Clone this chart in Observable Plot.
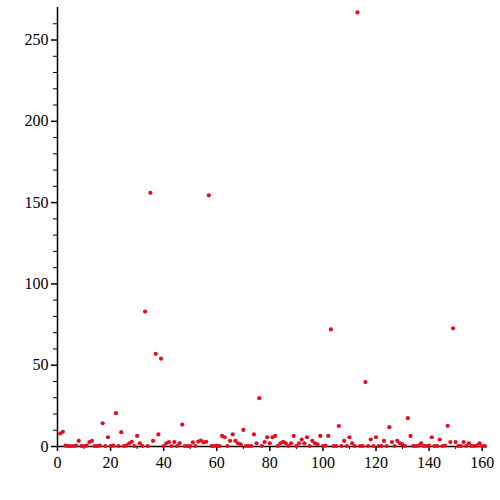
<!DOCTYPE html>
<html>
<head>
<meta charset="utf-8">
<script src="https://cdn.jsdelivr.net/npm/d3@7"></script>
<script src="https://cdn.jsdelivr.net/npm/@observablehq/plot@0.6"></script>
<style>
  html, body { margin: 0; padding: 0; background: #fff; }
  svg, svg text { font-family: "Liberation Serif", Tinos, "Times New Roman", Times, "DejaVu Serif", serif !important; }
</style>
</head>
<body>
<div id="chart"></div>
<script>
// values for index 1..161
const values = [
  8, 9, 0.5, 0.3, 0.3, 0.3, 0.5, 3.5, 0.3, 0.3,
  0.5, 2.7, 3.5, 0.3, 0.3, 0.5, 14.3, 0.3, 5.7, 0.3,
  0.5, 20.5, 0.3, 8.8, 0.3, 0.5, 2, 2.9, 0.3, 6.5,
  2, 0.3, 83, 0.3, 156, 3.5, 57, 7.4, 54, 0.3,
  2, 2.7, 0.3, 2.7, 0.3, 2, 13.5, 0.3, 0.3, 0.3,
  2.5, 0.3, 3, 3.7, 2.5, 2.9, 154.5, 0.3, 0.3, 0.5,
  0.3, 6.5, 5.7, 0.3, 3.5, 7.4, 3.5, 2, 1.3, 10.2,
  0.3, 0.3, 0.3, 7.4, 2, 29.7, 0.3, 2.7, 5.7, 2,
  5.7, 6.5, 0.3, 2, 2.9, 2, 0.3, 2, 6.5, 0.3,
  2, 4.3, 2, 5.7, 0.3, 3.5, 2, 1.3, 6.5, 0.3,
  0.5, 6.5, 72, 0.3, 0.3, 12.6, 0.3, 3.5, 0.3, 5.7,
  2, 0.3, 267, 0.3, 0.3, 39.6, 0.3, 4.3, 0.3, 5.7,
  0.3, 0.3, 3.5, 0.3, 11.9, 2.7, 0.3, 3.5, 2, 1.3,
  0.3, 17.4, 6.5, 0.3, 0.3, 0.5, 2, 0.3, 0.3, 0.5,
  5.7, 0.3, 0.3, 4.3, 0.3, 0.5, 12.7, 2.7, 72.7, 2.7,
  0.3, 0.3, 2.7, 0.3, 2, 0.3, 0.3, 0.5, 2, 0.3,
  0.3
];
const xTickLabels = [0, 20, 40, 60, 80, 100, 120, 140, 160];
const yTickLabels = [0, 50, 100, 150, 200, 250];
const xMinor = [10, 30, 50, 70, 90, 110, 130, 150];
const yMinor = [10, 20, 30, 40, 60, 70, 80, 90, 110, 120, 130, 140, 160, 170, 180, 190, 210, 220, 230, 240, 260];

const data = values.map((v, i) => ({x: i + 1, y: v}));
const serif = "'Liberation Serif', Tinos, 'Times New Roman', Times, 'DejaVu Serif', serif";

const chart = Plot.plot({
  width: 500,
  height: 500,
  marginLeft: 57,
  marginRight: 13,
  marginTop: 7,
  marginBottom: 54,
  style: {fontSize: "16px", color: "#000", background: "#fff"},
  x: {domain: [0, 162]},
  y: {domain: [0, 270]},
  marks: [
    Plot.axisX({ticks: xTickLabels, tickSize: 5, tickPadding: 5, fontSize: 16, label: null, stroke: "#000", strokeWidth: 1.5}),
    Plot.axisX({ticks: xMinor, tickSize: 3, tickFormat: () => "", label: null, stroke: "#000"}),
    Plot.axisY({ticks: yTickLabels, tickSize: 6, tickPadding: 3, fontSize: 16, label: null, stroke: "#000", strokeWidth: 1.5}),
    Plot.axisY({ticks: yMinor, tickSize: 4, tickFormat: () => "", label: null, stroke: "#000"}),
    Plot.ruleY([0], {stroke: "#000", strokeWidth: 1.5}),
    Plot.ruleX([0], {stroke: "#000", strokeWidth: 1.5}),
    Plot.dot(data, {x: "x", y: "y", r: 2.1, fill: "#e0101e", stroke: "none"})
  ]
});
chart.querySelectorAll("text").forEach(t => t.style.setProperty("font-family", serif, "important"));
document.getElementById("chart").appendChild(chart);
</script>
</body>
</html>
